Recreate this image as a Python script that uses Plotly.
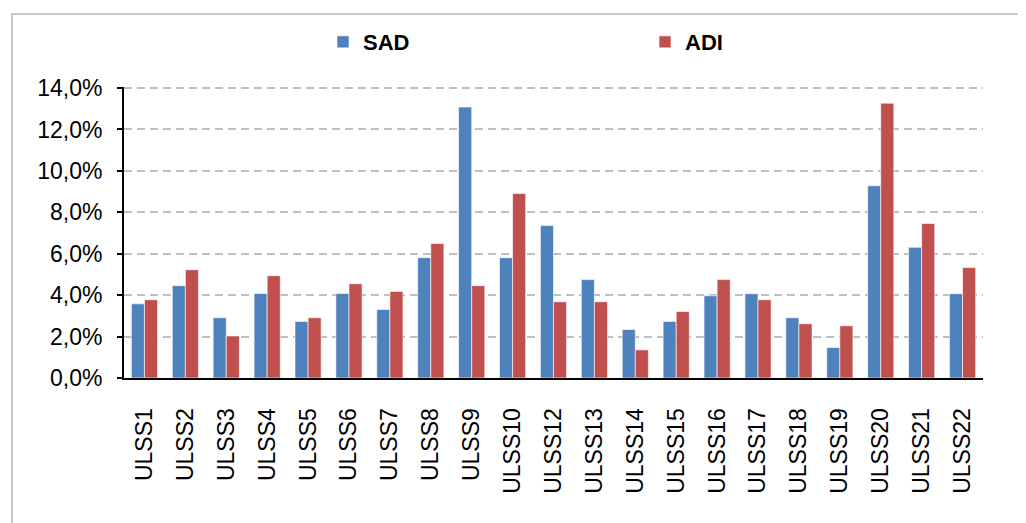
import plotly.graph_objects as go

categories = ["ULSS1", "ULSS2", "ULSS3", "ULSS4", "ULSS5", "ULSS6", "ULSS7", "ULSS8",
              "ULSS9", "ULSS10", "ULSS12", "ULSS13", "ULSS14", "ULSS15", "ULSS16",
              "ULSS17", "ULSS18", "ULSS19", "ULSS20", "ULSS21", "ULSS22"]
sad_values = [3.58, 4.46, 2.91, 4.08, 2.73, 4.08, 3.31, 5.81, 13.08, 5.81, 7.36,
              4.75, 2.34, 2.73, 3.97, 4.07, 2.91, 1.47, 9.28, 6.31, 4.07]
adi_values = [3.78, 5.23, 2.03, 4.94, 2.91, 4.55, 4.18, 6.49, 4.46, 8.91, 3.68,
              3.68, 1.36, 3.21, 4.75, 3.78, 2.62, 2.52, 13.27, 7.46, 5.33]
y_ticks = [0, 2, 4, 6, 8, 10, 12, 14]
y_tick_labels = ["0,0%", "2,0%", "4,0%", "6,0%", "8,0%", "10,0%", "12,0%", "14,0%"]

FONT = "Liberation Sans, Arial, sans-serif"

fig = go.Figure()
fig.add_trace(go.Bar(name="SAD", x=categories, y=sad_values,
                     marker=dict(color="#4F81BD", line=dict(color="rgba(255,255,255,0.6)", width=1))))
fig.add_trace(go.Bar(name="ADI", x=categories, y=adi_values,
                     marker=dict(color="#C0504D", line=dict(color="rgba(255,255,255,0.6)", width=1))))

# page body adds an 8px offset; compensate
OFF = 8
FW, FH = 1026 - OFF, 523 - OFF
YMAX = 14.05
L, R = 124 - OFF, 983 - OFF
B = 378 - OFF
T = B - (378 - 88) * YMAX / 14
W, H = R - L, B - T

fig.update_layout(
    width=FW, height=FH,
    margin=dict(l=L, r=FW - R, t=T, b=FH - B, autoexpand=False),
    paper_bgcolor="white", plot_bgcolor="white",
    font=dict(family=FONT, size=22, color="black"),
    barmode="group", bargap=0.36, bargroupgap=0,
    showlegend=True,
    legend=dict(orientation="h", x=(323 - OFF - L) / W, xanchor="left",
                y=(B - (42 - OFF)) / H, yanchor="middle",
                font=dict(family=FONT, size=22, color="black", weight="bold"),
                entrywidth=277, entrywidthmode="pixels",
                itemwidth=30, bgcolor="rgba(0,0,0,0)"),
    xaxis=dict(type="category", tickangle=-90, showline=True, linecolor="black",
               linewidth=2, ticks="", showgrid=False,
               tickfont=dict(family=FONT, size=23, color="black"),
               ticklabelstandoff=19),
    yaxis=dict(range=[0, YMAX], tickvals=y_ticks, ticktext=y_tick_labels,
               showline=True, linecolor="black", linewidth=2,
               ticks="outside", ticklen=5, tickcolor="black", tickwidth=1.5,
               showgrid=True, gridcolor="#BFBFBF", gridwidth=1.5, griddash="8px,5px",
               zeroline=False, ticklabelstandoff=10,
               tickfont=dict(family=FONT, size=23, color="black")),
    shapes=[dict(type="rect", xref="paper", yref="paper",
                 x0=(12 - OFF - L) / W, x1=(1040 - L) / W,
                 y0=(B - 540) / H, y1=(B - (14 - OFF)) / H,
                 line=dict(color="#C8C8C8", width=2), layer="below")],
)

fig.write_html("out.html")
